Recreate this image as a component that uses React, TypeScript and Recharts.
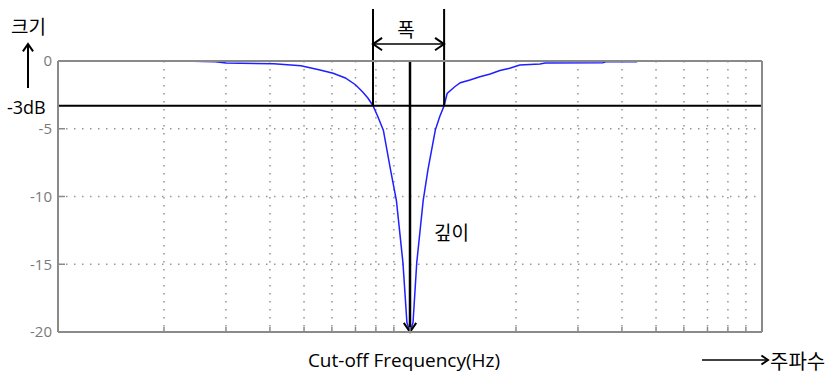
import { LineChart, Line, XAxis, YAxis, CartesianGrid, ReferenceLine } from "recharts";

// frequency response (Hz, dB)
const freqHz = [
  2.25, 2.8, 3.0, 4.1, 4.9, 5.55, 6.05, 6.55, 7.0, 7.35, 7.6, 7.85, 8.1, 8.4, 8.8, 9.15, 9.55, 9.8, 10,
  10.2, 10.45, 10.9, 11.25, 11.8, 12.15, 12.5, 12.75, 13.4, 13.9, 14.8, 15.8, 16.9, 18.0, 19.2, 20.5,
  23.4, 24.2, 35.3, 36.0, 44.2,
];
const gainDb = [
  0, -0.05, -0.15, -0.2, -0.35, -0.66, -0.9, -1.25, -1.75, -2.3, -2.75, -3.3, -4.1, -5.1, -8.0, -10.3, -14.9, -19.3, -20,
  -19.3, -14.9, -10.3, -8.0, -5.1, -4.1, -3.3, -2.4, -1.9, -1.6, -1.4, -1.16, -0.96, -0.7, -0.54, -0.3,
  -0.22, -0.15, -0.12, -0.05, -0.05,
];

const xTicks = [1, 2, 3, 4, 5, 6, 7, 8, 9, 10, 20, 30, 40, 50, 60, 70, 80, 90, 100];
const yTicks = [0, -5, -10, -15, -20];

// annotation values
const cutLowHz = 7.85;
const cutHighHz = 12.5;
const centerHz = 10;
const halfPowerDb = -3.3;
const markerTopDb = 3.84;
const widthArrowDb = 1.25;

const data = freqHz.map((f, i) => ({ f, db: gainDb[i] }));

const FONT = "'Open Sans', 'Noto Sans CJK KR', sans-serif";
const KFONT = "'Noto Sans CJK KR', 'Open Sans', sans-serif";
const FRAME = "#8a8a8a";

const noLabel = () => <g />;

function chevron(xTip: number, yTip: number, dx: number, dy: number, len = 11) {
  const a = Math.atan2(dy, dx);
  const s = 0.6;
  const p1 = [xTip - len * Math.cos(a - s), yTip - len * Math.sin(a - s)];
  const p2 = [xTip - len * Math.cos(a + s), yTip - len * Math.sin(a + s)];
  return `${p1[0]},${p1[1]} ${xTip},${yTip} ${p2[0]},${p2[1]}`;
}

const arrowShape = (both: boolean, width: number) => (props: any) => {
  const { x1, y1, x2, y2 } = props;
  return (
    <g>
      <line x1={x1} y1={y1} x2={x2} y2={y2} stroke="#000" strokeWidth={width} />
      <polyline points={chevron(x2, y2, x2 - x1, y2 - y1)} fill="none" stroke="#000" strokeWidth={2} />
      {both && (
        <polyline points={chevron(x1, y1, x1 - x2, y1 - y2)} fill="none" stroke="#000" strokeWidth={2} />
      )}
    </g>
  );
};

export default function App() {
  return (
    <div style={{ position: "absolute", left: 0, top: 0, width: 837, height: 376, background: "#fff" }}>
      <LineChart width={837} height={376} data={data} margin={{ top: 31, right: 45, bottom: 14, left: 0 }}>
        <CartesianGrid stroke="#959595" strokeWidth={1.5} strokeDasharray="1.5 6.5" />
        <XAxis
          dataKey="f"
          type="number"
          scale="log"
          domain={[1, 100]}
          ticks={xTicks}
          interval={0}
          allowDataOverflow
          height={30}
          tick={noLabel}
          tickSize={-5}
          axisLine={{ stroke: FRAME, strokeWidth: 2 }}
          tickLine={{ stroke: FRAME, strokeWidth: 1.5 }}
        />
        <XAxis
          xAxisId="top"
          orientation="top"
          type="number"
          scale="log"
          domain={[1, 100]}
          ticks={xTicks}
          interval={0}
          allowDataOverflow
          height={30}
          tick={noLabel}
          tickSize={-5}
          axisLine={{ stroke: FRAME, strokeWidth: 2 }}
          tickLine={{ stroke: FRAME, strokeWidth: 1.5 }}
        />
        <YAxis
          type="number"
          domain={[-20, 0]}
          ticks={yTicks}
          interval={0}
          allowDataOverflow
          width={58}
          tickSize={-7}
          tickMargin={13}
          tick={{ fill: "#7a7a7a", fontSize: 15, fontFamily: FONT }}
          axisLine={{ stroke: FRAME, strokeWidth: 2 }}
          tickLine={{ stroke: FRAME, strokeWidth: 1.5 }}
        />
        <YAxis
          yAxisId="right"
          orientation="right"
          type="number"
          domain={[-20, 0]}
          ticks={yTicks}
          interval={0}
          width={30}
          tick={noLabel}
          tickSize={-7}
          axisLine={{ stroke: FRAME, strokeWidth: 2 }}
          tickLine={{ stroke: FRAME, strokeWidth: 1.5 }}
        />
        <Line
          type="linear"
          dataKey="db"
          stroke="#1f1fff"
          strokeWidth={1.5}
          dot={false}
          isAnimationActive={false}
        />
        <ReferenceLine y={halfPowerDb} stroke="#000" strokeWidth={2} ifOverflow="visible" />
        <ReferenceLine
          segment={[{ x: cutLowHz, y: markerTopDb }, { x: cutLowHz, y: halfPowerDb }]}
          stroke="#000"
          strokeWidth={2}
          ifOverflow="visible"
        />
        <ReferenceLine
          segment={[{ x: cutHighHz, y: markerTopDb }, { x: cutHighHz, y: halfPowerDb }]}
          stroke="#000"
          strokeWidth={2}
          ifOverflow="visible"
        />
        <ReferenceLine
          segment={[{ x: cutLowHz, y: widthArrowDb }, { x: cutHighHz, y: widthArrowDb }]}
          ifOverflow="visible"
          shape={arrowShape(true, 1.5)}
        />
        <ReferenceLine
          segment={[{ x: centerHz, y: 0 }, { x: centerHz, y: -20 }]}
          ifOverflow="visible"
          shape={arrowShape(false, 2.5)}
        />
      </LineChart>
      <svg
        width={837}
        height={376}
        style={{ position: "absolute", left: 0, top: 0, pointerEvents: "none" }}
      >
        <text x={11} y={25} fontSize={19} fontFamily={KFONT} dominantBaseline="central">크기</text>
        <line x1={28} y1={88} x2={28} y2={44} stroke="#000" strokeWidth={2} />
        <polyline points={chevron(28, 44, 0, -1, 9)} fill="none" stroke="#000" strokeWidth={2} />
        <text x={7} y={107} fontSize={18} fontFamily={FONT} dominantBaseline="central">-3dB</text>
        <text x={406} y={28} fontSize={19} fontFamily={KFONT} textAnchor="middle" dominantBaseline="central">폭</text>
        <text x={434} y={231} fontSize={19} fontFamily={KFONT} dominantBaseline="central">깊이</text>
        <text x={404} y={360} fontSize={19} fontFamily={FONT} textAnchor="middle" dominantBaseline="central">
          Cut-off Frequency(Hz)
        </text>
        <line x1={702} y1={360} x2={768} y2={360} stroke="#000" strokeWidth={1.5} />
        <polyline points={chevron(768, 360, 1, 0, 8)} fill="none" stroke="#000" strokeWidth={2} />
        <text x={770} y={360} fontSize={20} fontFamily={KFONT} dominantBaseline="central">주파수</text>
      </svg>
    </div>
  );
}
